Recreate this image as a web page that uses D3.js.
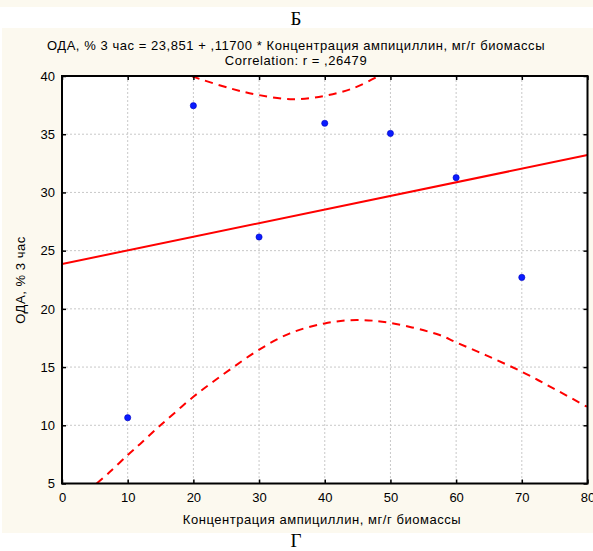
<!DOCTYPE html>
<html><head><meta charset="utf-8">
<script src="https://cdn.jsdelivr.net/npm/d3@7"></script>
<style>body{margin:0;background:#fff;} svg{display:block;}</style>
</head><body>
<script>
// ---- data ----
const xValues = [10, 20, 30, 40, 50, 60, 70];
const yValues = [10.65, 37.45, 26.17, 35.94, 35.07, 31.27, 22.7];
const regIntercept = 23.851;
const regSlope = 0.117;
const regX = [0, 80];
const upperX = [19.8, 20.2, 25.6, 29.9, 35.2, 40.0, 44.3, 47.9, 48.3];
const upperY = [40.0, 39.9, 38.94, 38.37, 38.0, 38.3, 38.94, 39.9, 40.0];
const lowerX = [5.28, 7.3, 10.1, 11.9, 14.2, 15.9, 20.0, 23.0, 26.1, 29.9, 34.7, 40.0, 44.85, 49.9, 57.5, 59.8, 64.6, 70.0, 74.8, 79.9];
const lowerY = [5.0, 6.0, 7.5, 8.4, 9.6, 10.45, 12.45, 13.74, 15.0, 16.46, 17.9, 18.75, 19.04, 18.8, 17.75, 17.17, 16.0, 14.6, 13.17, 11.6];
const xTicks = [0, 10, 20, 30, 40, 50, 60, 70, 80];
const yTicks = [5, 10, 15, 20, 25, 30, 35, 40];
const titleLine1 = "ОДА, % 3 час = 23,851 + ,11700 * Концентрация ампициллин, мг/г биомассы";
const titleLine2 = "Correlation: r = ,26479";
const xLabel = "Концентрация ампициллин, мг/г биомассы";
const yLabel = "ОДА, % 3 час";

const W = 593, H = 551;
const svg = d3.select("body").append("svg").attr("width", W).attr("height", H);
const cream = "#fcf9ef";
svg.append("rect").attr("x",0).attr("y",0).attr("width",W).attr("height",7).attr("fill",cream);
svg.append("rect").attr("x",2).attr("y",28).attr("width",W-2).attr("height",505).attr("fill",cream);
svg.append("text").attr("x",296).attr("y",25).attr("text-anchor","middle")
  .attr("font-family","Liberation Serif, Times New Roman, serif").attr("font-size",19).text("Б");
svg.append("text").attr("x",296).attr("y",547).attr("text-anchor","middle")
  .attr("font-family","Liberation Serif, Times New Roman, serif").attr("font-size",19).text("Г");

const L = 62, R = 587.5, T = 76, B = 483.5;
const x = d3.scaleLinear().domain([0, 80]).range([L, R]);
const y = d3.scaleLinear().domain([5, 40]).range([B, T]);
const font = "Liberation Sans, Arial, sans-serif";

svg.append("rect").attr("x",L).attr("y",T).attr("width",R-L).attr("height",B-T).attr("fill","#fff");

// grid
const g = svg.append("g");
g.selectAll("line.gx").data(xTicks.slice(1,-1)).join("line")
  .attr("x1",d=>x(d)).attr("x2",d=>x(d)).attr("y1",T).attr("y2",B)
  .attr("stroke","#c8c8c8").attr("stroke-dasharray","2,2");
g.selectAll("line.gy").data(yTicks.slice(1,-1)).join("line")
  .attr("y1",d=>y(d)).attr("y2",d=>y(d)).attr("x1",L).attr("x2",R)
  .attr("stroke","#c8c8c8").attr("stroke-dasharray","2,2");

// clip
svg.append("clipPath").attr("id","clip").append("rect").attr("x",L).attr("y",T).attr("width",R-L).attr("height",B-T);
const plot = svg.append("g").attr("clip-path","url(#clip)");

const lineGen = d3.line().x(d=>x(d[0])).y(d=>y(d[1])).curve(d3.curveCatmullRom);
plot.append("path").datum(upperX.map((v,i)=>[v,upperY[i]])).attr("d",lineGen)
  .attr("fill","none").attr("stroke","#ff0000").attr("stroke-width",2).attr("stroke-dasharray","8,6");
plot.append("path").datum(lowerX.map((v,i)=>[v,lowerY[i]])).attr("d",lineGen)
  .attr("fill","none").attr("stroke","#ff0000").attr("stroke-width",2).attr("stroke-dasharray","8,6");
plot.append("path").datum(regX.map(v=>[v, regIntercept + regSlope*v]))
  .attr("d", d3.line().x(d=>x(d[0])).y(d=>y(d[1])))
  .attr("fill","none").attr("stroke","#ff0000").attr("stroke-width",2);

plot.selectAll("circle").data(xValues.map((v,i)=>[v,yValues[i]])).join("circle")
  .attr("cx",d=>x(d[0])).attr("cy",d=>y(d[1])).attr("r",3.1)
  .attr("fill","#0a1cff").attr("stroke","#0000c0").attr("stroke-width",0.6);

// axes
const axB = svg.append("g").attr("transform",`translate(0,${B})`)
  .call(d3.axisBottom(x).tickValues(xTicks).tickSize(-4).tickPadding(9).tickFormat(d3.format("d")));
const axL = svg.append("g").attr("transform",`translate(${L},0)`)
  .call(d3.axisLeft(y).tickValues(yTicks).tickSize(-4).tickPadding(7).tickFormat(d3.format("d")));
const axT = svg.append("g").attr("transform",`translate(0,${T})`)
  .call(d3.axisTop(x).tickValues(xTicks).tickSize(-4).tickFormat(""));
const axR = svg.append("g").attr("transform",`translate(${R},0)`)
  .call(d3.axisRight(y).tickValues(yTicks).tickSize(-4).tickFormat(""));
[axB,axL,axT,axR].forEach(a=>{
  a.select(".domain").remove();
  a.selectAll(".tick line").attr("stroke","#000").attr("stroke-width",1.5);
  a.selectAll("text").attr("font-family",font).attr("font-size",13).attr("fill","#000");
});
svg.append("rect").attr("x",L).attr("y",T).attr("width",R-L).attr("height",B-T)
  .attr("fill","none").attr("stroke","#000").attr("stroke-width",2);

// titles
const tAttrs = s => s.attr("font-family",font).attr("font-size",13).attr("letter-spacing","0.55px").attr("text-anchor","middle");
svg.append("text").attr("x",296).attr("y",50).call(tAttrs).text(titleLine1);
svg.append("text").attr("x",296).attr("y",65).call(tAttrs).text(titleLine2);
svg.append("text").attr("x",322).attr("y",524).call(tAttrs).text(xLabel);
svg.append("text").attr("transform",`translate(25,280) rotate(-90)`).call(tAttrs).text(yLabel);
</script>
</body></html>
